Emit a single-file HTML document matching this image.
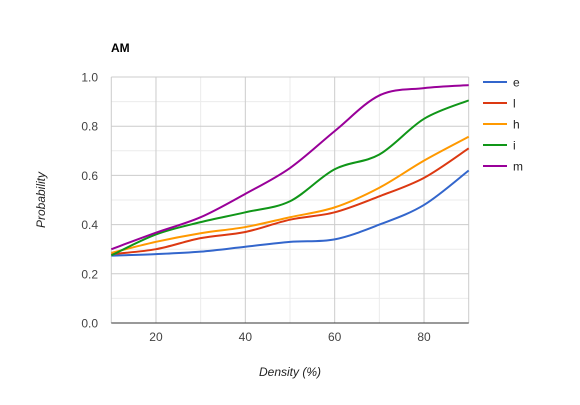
<!DOCTYPE html>
<html><head><meta charset="utf-8"><style>
body{margin:0;background:#fff;font-family:"Liberation Sans",Arial,sans-serif}
svg text{font-family:"Liberation Sans",Arial,sans-serif}
</style></head><body>
<svg id="c" width="580" height="400"></svg>
<script>
const xVals=[10,20,30,40,50,60,70,80,90];
const seriesNames=['e','l','h','i','m'];
const seriesColors=['#3366cc','#dc3912','#ff9900','#109618','#990099'];
const eVals=[0.274,0.28,0.29,0.31,0.33,0.34,0.40,0.48,0.62];
const lVals=[0.28,0.30,0.345,0.37,0.42,0.45,0.515,0.59,0.71];
const hVals=[0.285,0.33,0.365,0.39,0.43,0.47,0.55,0.66,0.757];
const iVals=[0.275,0.36,0.41,0.45,0.495,0.625,0.685,0.83,0.905];
const mVals=[0.30,0.367,0.43,0.525,0.63,0.78,0.925,0.955,0.967];
const allSeries=[eVals,lVals,hVals,iVals,mVals];
const xTicks=[20,40,60,80];
const yTicks=[0,0.2,0.4,0.6,0.8,1.0];
const X0=111.3,X1=468.7,Y0=323,Y1=77;
const sx=v=>X0+(v-10)/80*(X1-X0);
const sy=v=>Y0-v*(Y0-Y1);
const svg=document.getElementById('c');
const NS='http://www.w3.org/2000/svg';
function mk(t,a,p){const e=document.createElementNS(NS,t);for(const k in a)e.setAttribute(k,a[k]);(p||svg).appendChild(e);return e;}
// minor grid
for(let v=0.1;v<1;v+=0.2){const g=mk('line',{x1:X0,x2:X1,y1:sy(v),y2:sy(v),stroke:'#ebebeb'});}
for(let v=30;v<90;v+=20){const g=mk('line',{x1:sx(v),x2:sx(v),y1:Y1,y2:Y0,stroke:'#ebebeb'});}
yTicks.forEach(v=>{const g=mk('line',{x1:X0,x2:X1,y1:sy(v),y2:sy(v),stroke:'#cccccc'});
const t=mk('text',{x:98,y:sy(v)+4.5,'text-anchor':'end','font-size':12,fill:'#444'});t.textContent=v.toFixed(1);});
[10,90].forEach(v=>{const g=mk('line',{x1:sx(v),x2:sx(v),y1:Y1,y2:Y0,stroke:'#cccccc'});});
xTicks.forEach(v=>{const g=mk('line',{x1:sx(v),x2:sx(v),y1:Y1,y2:Y0,stroke:'#cccccc'});
const t=mk('text',{x:sx(v),y:341,'text-anchor':'middle','font-size':12,fill:'#444'});t.textContent=v;});
const ax=mk('line',{x1:X0,x2:X1,y1:Y0,y2:Y0,stroke:'#333'});
function pathFor(vals){const p=xVals.map((x,i)=>[sx(x),sy(vals[i])]);let d='M'+p[0][0]+','+p[0][1];
for(let i=0;i<p.length-1;i++){const a=p[Math.max(i-1,0)],b=p[i],c=p[i+1],e=p[Math.min(i+2,p.length-1)];
const k=1/6;d+=' C'+(b[0]+(c[0]-a[0])*k)+','+(b[1]+(c[1]-a[1])*k)+' '+(c[0]-(e[0]-b[0])*k)+','+(c[1]-(e[1]-b[1])*k)+' '+c[0]+','+c[1];}return d;}
allSeries.forEach((vals,i)=>{const l=mk('path',{d:pathFor(vals),fill:'none',stroke:seriesColors[i],'stroke-width':2});
const ly=82+i*21;const g=mk('g',{});
mk('line',{x1:483,x2:507,y1:ly,y2:ly,stroke:seriesColors[i],'stroke-width':2},g);
const t=mk('text',{x:513,y:ly+4.5,'font-size':12,fill:'#222'},g);t.textContent=seriesNames[i];});
const tt=mk('text',{x:111,y:52,'font-size':12,'font-weight':'bold',fill:'#000'});tt.textContent='AM';
const xt=mk('text',{x:290,y:376,'text-anchor':'middle','font-size':12,'font-style':'italic',fill:'#222'});xt.textContent='Density (%)';
const yt=mk('text',{x:0,y:0,transform:'translate(45,200) rotate(-90)','text-anchor':'middle','font-size':12,'font-style':'italic',fill:'#222'});yt.textContent='Probability';
</script>
</body></html>
